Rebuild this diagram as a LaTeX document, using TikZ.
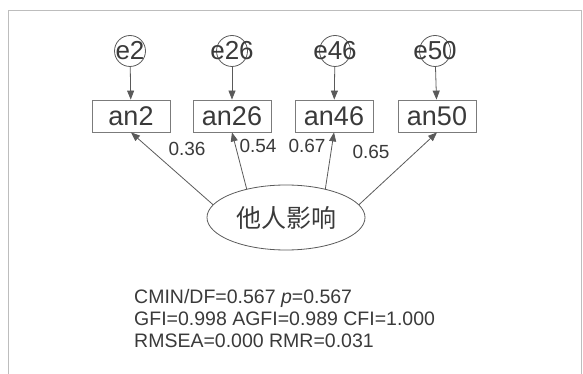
\documentclass[tikz,border=0pt]{standalone}
\usepackage{fontspec}
\setmainfont{Liberation Sans}
\newfontfamily\cjk{Noto Sans CJK SC}
\usetikzlibrary{arrows.meta,shapes.geometric}
\definecolor{ink}{HTML}{3A3A3A}
\definecolor{edge}{HTML}{5A5A5A}
\definecolor{frame}{HTML}{BDBDBD}
\tikzset{
  errnode/.style={circle,draw=edge,line width=0.8pt,minimum size=31pt,inner sep=0pt,text=ink,font=\fontsize{26}{30}\selectfont},
  obsbox/.style={rectangle,draw=edge!80,line width=0.8pt,minimum width=78pt,minimum height=32pt,inner sep=0pt,text=ink,font=\fontsize{27}{31}\selectfont},
  latent/.style={ellipse,draw=edge,line width=0.8pt,minimum width=158pt,minimum height=65pt,inner sep=0pt,text=ink,font=\cjk\fontsize{25}{30}\selectfont},
  arr/.style={draw=edge,line width=0.8pt,-{Triangle[length=9pt,width=7pt]}},
  wlabel/.style={text=ink,inner sep=0pt,font=\fontsize{19}{22}\selectfont},
  stat/.style={text=ink,inner sep=0pt,anchor=base west,font=\fontsize{19.5}{23}\selectfont}
}
\begin{document}
\begin{tikzpicture}[x=1pt,y=-1pt]
\useasboundingbox (0,0) rectangle (583,374);
\draw[frame,line width=1pt] (8,376) -- (8,11) -- (581,11) -- (581,376);
% error terms
\node[errnode] (e2)  at (130,51) {\makebox[0pt]{e2}};
\node[errnode] (e26) at (232,51) {\makebox[0pt]{e26}};
\node[errnode] (e46) at (335,51) {\makebox[0pt]{e46}};
\node[errnode] (e50) at (435,51) {\makebox[0pt]{e50}};
% observed
\node[obsbox] (an2)  at (131,116) {an2};
\node[obsbox] (an26) at (232,116) {an26};
\node[obsbox] (an46) at (334,116) {an46};
\node[obsbox] (an50) at (437,116) {an50};
% latent
\node[latent] (ell) at (286,217.5) {他人影响};
% arrows
\draw[arr] (e2) -- (an2);
\draw[arr] (e26) -- (an26);
\draw[arr] (e46) -- (an46);
\draw[arr] (e50) -- (an50);
\draw[arr] (ell.170.7) -- (an2.south);
\draw[arr] (ell.144.7) -- (an26.south);
\draw[arr] (ell.36.6) -- (an46.south);
\draw[arr] (ell.10.7) -- (an50.south);
% loadings
\node[wlabel] (l1) at (187,149) {0.36};
\node[wlabel] (l2) at (258,146) {0.54};
\node[wlabel] (l3) at (307,146) {0.67};
\node[wlabel] (l4) at (371,152) {0.65};
% fit
\node[stat] (s1) at (134,303) {CMIN/DF=0.567 \textit{p}=0.567};
\node[stat] (s2) at (134,325) {GFI=0.998 AGFI=0.989 CFI=1.000};
\node[stat] (s3) at (134,347) {RMSEA=0.000 RMR=0.031};
\end{tikzpicture}
\end{document}
